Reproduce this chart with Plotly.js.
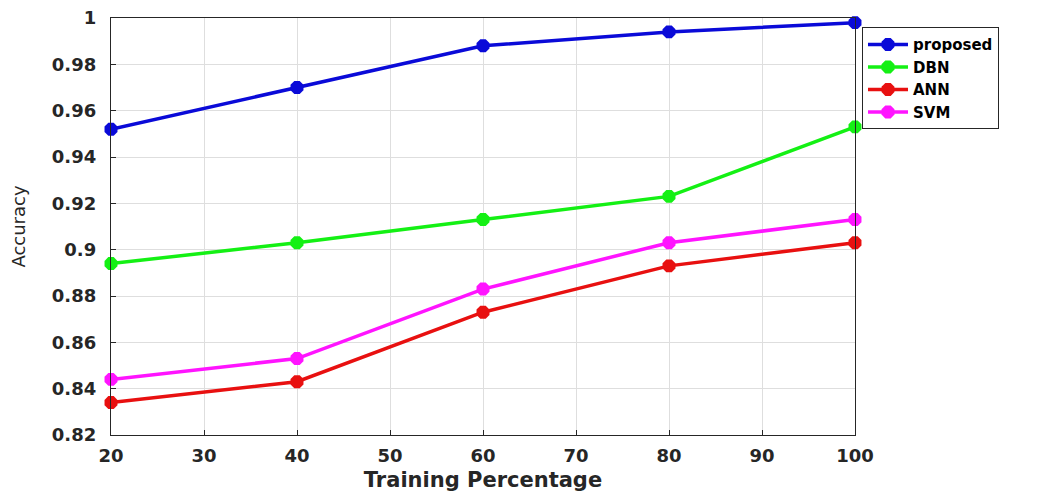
<!DOCTYPE html>
<html>
<head>
<meta charset="utf-8">
<script src="https://cdn.plot.ly/plotly-3.0.1.min.js"></script>
<style>html,body{margin:0;padding:0;background:#fff;}#chart{width:1059px;height:492px;}</style>
</head>
<body>
<div id="chart"></div>
<script>
const trainingPct = [20, 40, 60, 80, 100];
const proposed = [0.952, 0.970, 0.988, 0.994, 0.998];
const dbn = [0.894, 0.903, 0.913, 0.923, 0.953];
const ann = [0.834, 0.843, 0.873, 0.893, 0.903];
const svm = [0.844, 0.853, 0.883, 0.903, 0.913];
const seriesNames = ["proposed", "DBN", "ANN", "SVM"];
const seriesValues = [proposed, dbn, ann, svm];
const seriesColors = ["#0a0ad8", "#14f014", "#e81010", "#ff14ff"];
const xTicks = [20, 30, 40, 50, 60, 70, 80, 90, 100];
const yTicks = [0.82, 0.84, 0.86, 0.88, 0.9, 0.92, 0.94, 0.96, 0.98, 1];
const yTickText = ["0.82", "0.84", "0.86", "0.88", "0.9", "0.92", "0.94", "0.96", "0.98", "1"];

const traces = seriesNames.map((n, i) => ({
  x: trainingPct, y: seriesValues[i], name: n, type: "scatter", mode: "lines+markers",
  line: {color: seriesColors[i], width: 3.5},
  marker: {color: seriesColors[i], size: 14, symbol: "octagon"},
  cliponaxis: false
}));

const fontFam = "DejaVu Sans, Arial, sans-serif";
const layout = {
  width: 1059, height: 492,
  margin: {l: 111, r: 204, t: 18, b: 57, pad: 0},
  paper_bgcolor: "#fff", plot_bgcolor: "#fff",
  font: {family: fontFam, color: "#262626"},
  showlegend: true,
  legend: {
    x: 1.0094, y: 0.978, xanchor: "left", yanchor: "top",
    bordercolor: "#262626", borderwidth: 1, bgcolor: "#fff",
    font: {family: fontFam, size: 15, color: "#000", weight: "bold"},
    tracegroupgap: 0, itemwidth: 40
  },
  xaxis: {
    range: [20, 100], tickvals: xTicks, ticktext: xTicks.map(String),
    showgrid: true, gridcolor: "#dedede", gridwidth: 1,
    showline: true, linecolor: "#262626", linewidth: 1.2, mirror: true,
    ticks: "inside", ticklen: 5, tickcolor: "#262626",
    ticklabelstandoff: 4,
    tickfont: {family: fontFam, size: 18, color: "#262626", weight: "bold"},
    zeroline: false,
    title: {text: "Training Percentage", font: {family: fontFam, size: 21, color: "#262626", weight: "bold"}, standoff: 7}
  },
  yaxis: {
    range: [0.82, 1], tickvals: yTicks, ticktext: yTickText,
    showgrid: true, gridcolor: "#dedede", gridwidth: 1,
    showline: true, linecolor: "#262626", linewidth: 1.2, mirror: true,
    ticks: "inside", ticklen: 5, tickcolor: "#262626",
    ticklabelstandoff: 10,
    tickfont: {family: fontFam, size: 18, color: "#262626", weight: "bold"},
    zeroline: false,
    title: {text: "Accuracy", font: {family: fontFam, size: 18, color: "#262626"}, standoff: 21}
  }
};
Plotly.newPlot("chart", traces, layout, {displayModeBar: false, staticPlot: true});
</script>
</body>
</html>
